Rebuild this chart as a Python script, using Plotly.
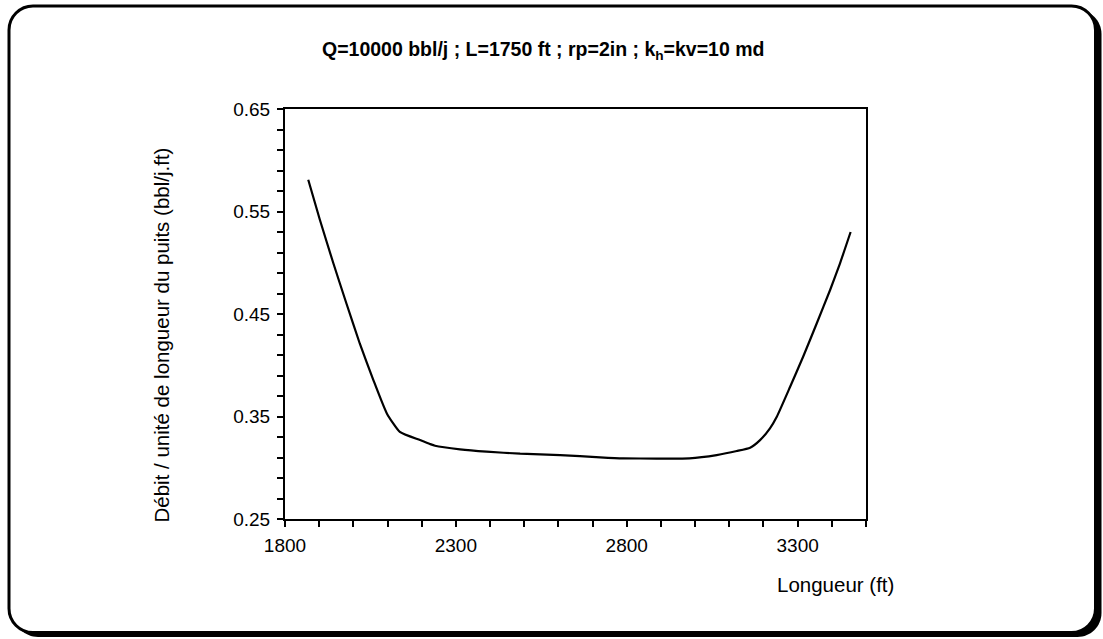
import plotly.graph_objects as go

# ---- data ----
longueur_ft = [1868, 1902, 1941, 1980, 2019, 2058, 2098, 2136, 2195, 2224, 2239, 2312,
               2390, 2488, 2605, 2722, 2790, 2887, 2983, 3063, 3122, 3161, 3190, 3219,
               3239, 3278, 3316, 3356, 3395, 3424, 3455]
debit_unite = [0.581, 0.542, 0.500, 0.460, 0.421, 0.386, 0.353, 0.335, 0.327, 0.3232, 0.3215, 0.318,
               0.3157, 0.3137, 0.3124, 0.3102, 0.3092, 0.3090, 0.3092, 0.3124, 0.3163, 0.3196, 0.327, 0.3385,
               0.3498, 0.379, 0.4083, 0.441, 0.4734, 0.4995, 0.530]

x_range = [1800, 3500]
y_range = [0.25, 0.65]
x_ticks = [1800, 2300, 2800, 3300]
y_ticks = [0.25, 0.35, 0.45, 0.55, 0.65]

title_text = "<b>Q=10000 bbl/j ; L=1750 ft ; rp=2in ; k<sub>h</sub>=kv=10 md</b>"
x_title = "Longueur (ft)"
y_title = "Débit / unité de longueur du puits (bbl/j.ft)"

# ---- layout geometry ----
W, H = 1103, 639
ML, MR, MT, MB = 285, 237, 109, 120
PW, PH = W - ML - MR, H - MT - MB
FONT = "Liberation Sans, Arial, sans-serif"


def px(x):
    return (x - ML) / PW


def py(y):
    return (H - MB - y) / PH


def rounded_rect(x0, y0, x1, y1, r):
    k = 0.5523 * r
    pts = [
        ("M", [(x0 + r, y0)]),
        ("L", [(x1 - r, y0)]),
        ("C", [(x1 - r + k, y0), (x1, y0 + r - k), (x1, y0 + r)]),
        ("L", [(x1, y1 - r)]),
        ("C", [(x1, y1 - r + k), (x1 - r + k, y1), (x1 - r, y1)]),
        ("L", [(x0 + r, y1)]),
        ("C", [(x0 + r - k, y1), (x0, y1 - r + k), (x0, y1 - r)]),
        ("L", [(x0, y0 + r)]),
        ("C", [(x0, y0 + r - k), (x0 + r - k, y0), (x0 + r, y0)]),
    ]
    s = ""
    for cmd, ps in pts:
        s += cmd + " " + " ".join(f"{px(a):.5f},{py(b):.5f}" for a, b in ps) + " "
    return s + "Z"


fig = go.Figure()
fig.add_trace(go.Scatter(
    x=longueur_ft, y=debit_unite, mode="lines",
    line=dict(color="black", width=2.2, shape="spline", smoothing=0.5),
    showlegend=False, hoverinfo="skip"))

axis_common = dict(
    showgrid=False, zeroline=False, showline=True, linecolor="black", linewidth=2,
    mirror=True, ticks="outside", ticklen=6, tickwidth=2, tickcolor="black",
    tickfont=dict(family=FONT, size=19, color="black"),
)

fig.update_xaxes(range=x_range, tickvals=x_ticks, ticktext=[str(v) for v in x_ticks],
                 ticklabelstandoff=2,
                 minor=dict(dtick=100, tick0=1800, ticks="outside", ticklen=6, tickwidth=2,
                            tickcolor="black"),
                 **axis_common)
fig.update_yaxes(range=y_range, tickvals=y_ticks, ticktext=[f"{v:.2f}" for v in y_ticks],
                 ticklabelstandoff=3,
                 minor=dict(dtick=0.02, tick0=0.25, ticks="outside", ticklen=6, tickwidth=2,
                            tickcolor="black"),
                 **axis_common)

shapes = [
    dict(type="path", xref="paper", yref="paper", path=rounded_rect(14, 10, 1101.5, 637, 24),
         fillcolor="black", line=dict(width=0), layer="below"),
    dict(type="path", xref="paper", yref="paper", path=rounded_rect(9, 6, 1095.5, 632.5, 24),
         fillcolor="white", line=dict(color="black", width=3), layer="below"),
]

annotations = [
    dict(text=title_text, x=px(543), y=py(50), xref="paper", yref="paper",
         xanchor="center", yanchor="middle", showarrow=False,
         font=dict(family=FONT, size=19.5, color="black")),
    dict(text=x_title, x=px(835.5), y=py(584), xref="paper", yref="paper",
         xanchor="center", yanchor="middle", showarrow=False,
         font=dict(family=FONT, size=20.5, color="black")),
    dict(text=y_title, x=px(161), y=py(335.5), xref="paper", yref="paper",
         xanchor="center", yanchor="middle", showarrow=False, textangle=-90,
         font=dict(family=FONT, size=20.5, color="black")),
]

fig.update_layout(
    width=W, height=H,
    margin=dict(l=ML, r=MR, t=MT, b=MB, pad=0),
    paper_bgcolor="white", plot_bgcolor="rgba(0,0,0,0)",
    shapes=shapes, annotations=annotations,
    font=dict(family=FONT, color="black"),
)

fig.write_html("out.html")
